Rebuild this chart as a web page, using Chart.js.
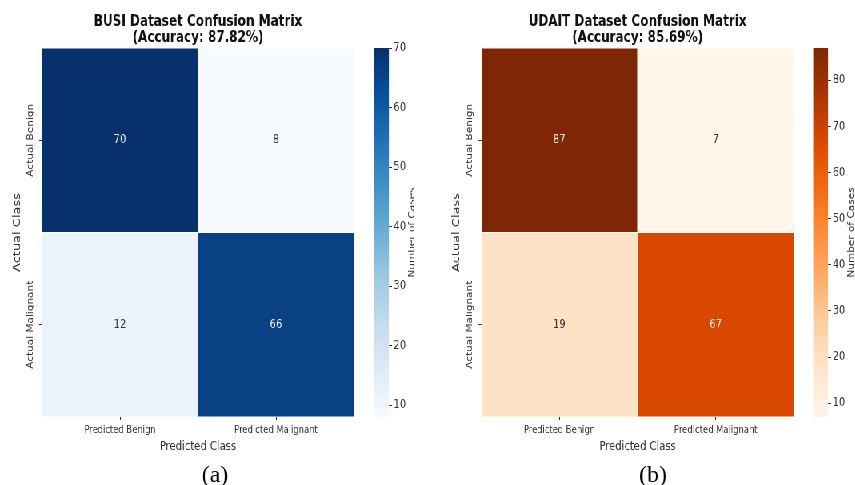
<!DOCTYPE html>
<html>
<head>
<meta charset="utf-8">
<script src="https://cdn.jsdelivr.net/npm/chart.js@4.4.1/dist/chart.umd.min.js"></script>
<style>
    html, body { margin: 0; padding: 0; background: #fff; overflow: hidden; }
    #page { position: relative; width: 855px; height: 485px; overflow: hidden; }
    /* the source figure is squeezed horizontally, so the charts are drawn wide and scaled down */
    #figure { position: absolute; left: 0; top: 0; width: 1069px; height: 485px; transform: scaleX(0.8); transform-origin: 0 0; }
    #figure canvas { position: absolute; top: 0; }
    .caption { position: absolute; top: 461px; width: 80px; line-height: 24px; text-align: center; font: 24px "Liberation Serif", "Times New Roman", serif; color: #000; }
</style>
</head>
<body>
<div id="page">
    <div id="figure">
        <canvas id="busi-map" width="495" height="462" style="left:0px"></canvas>
        <canvas id="busi-bar" width="82" height="485" style="left:455px"></canvas>
        <canvas id="udait-map" width="496" height="462" style="left:548.75px"></canvas>
        <canvas id="udait-bar" width="82" height="485" style="left:1003.75px"></canvas>
    </div>
    <div class="caption" style="left:175px">(a)</div>
    <div class="caption" style="left:613px">(b)</div>
</div>
<script>
"use strict";

// #region Data
const predictedClasses = ["Predicted Benign", "Predicted Malignant"];
const actualClasses = ["Actual Benign", "Actual Malignant"];

// rows = actual class, columns = predicted class
const busiCounts = [
    [70, 8],
    [12, 66],
];
const udaitCounts = [
    [87, 7],
    [19, 67],
];

const busiTitle = ["BUSI Dataset Confusion Matrix", "(Accuracy: 87.82%)"];
const udaitTitle = ["UDAIT Dataset Confusion Matrix", "(Accuracy: 85.69%)"];

const busiRange = [8, 70];
const udaitRange = [7, 87];
const busiBarTicks = [10, 20, 30, 40, 50, 60, 70];
const udaitBarTicks = [10, 20, 30, 40, 50, 60, 70, 80];

const xAxisTitle = "Predicted Class";
const yAxisTitle = "Actual Class";
const colourbarTitle = "Number of Cases";
// #endregion

// #region Colour maps
const BLUES = ["#f7fbff", "#deebf7", "#c6dbef", "#9ecae1", "#6baed6", "#4292c6", "#2171b5", "#08519c", "#08306b"];
const ORANGES = ["#fff5eb", "#fee6ce", "#fdd0a2", "#fdae6b", "#fd8d3c", "#f16913", "#d94801", "#a63603", "#7f2704"];

function hexToRgb(hex) {
    const n = parseInt(hex.slice(1), 16);
    return [n >> 16, (n >> 8) & 255, n & 255];
}

function sampleMap(stops, t) {
    t = Math.min(1, Math.max(0, t));
    const pos = t * (stops.length - 1);
    const i = Math.min(Math.floor(pos), stops.length - 2);
    const f = pos - i;
    const a = hexToRgb(stops[i]);
    const b = hexToRgb(stops[i + 1]);
    const c = a.map((v, k) => Math.round(v + (b[k] - v) * f));
    return `rgb(${c[0]}, ${c[1]}, ${c[2]})`;
}
// #endregion

const FONT = "'DejaVu Sans', 'Noto Sans', sans-serif";
const TEXT = "#333";
Chart.defaults.font.family = FONT;
Chart.defaults.color = TEXT;

// #region Plugins
/* count written in the middle of each cell */
const cellLabels = {
    id: "cellLabels",
    afterDatasetsDraw(chart) {
        const { ctx } = chart;
        ctx.save();
        ctx.font = `12px ${FONT}`;
        ctx.textAlign = "center";
        ctx.textBaseline = "middle";
        chart.data.datasets.forEach((ds, i) => {
            chart.getDatasetMeta(i).data.forEach((bar, j) => {
                ctx.fillStyle = ds.textColours[j];
                ctx.fillText(String(ds.counts[j]), bar.x, (bar.y + bar.base) / 2);
            });
        });
        ctx.restore();
    },
};

/* row names are rotated like in seaborn */
const rowLabels = {
    id: "rowLabels",
    afterDraw(chart) {
        const { ctx } = chart;
        const yScale = chart.scales.y;
        ctx.save();
        ctx.font = `10.5px ${FONT}`;
        ctx.fillStyle = TEXT;
        ctx.textAlign = "center";
        ctx.textBaseline = "middle";
        actualClasses.forEach((name, r) => {
            const value = actualClasses.length - 1 - r + 0.5;
            ctx.save();
            ctx.translate(yScale.right - 14, yScale.getPixelForValue(value));
            ctx.rotate(-Math.PI / 2);
            ctx.fillText(name, 0, 0);
            ctx.restore();
        });
        ctx.restore();
    },
};

/* colour bar label, reading bottom to top */
const barTitle = {
    id: "barTitle",
    afterDraw(chart) {
        const { ctx, chartArea } = chart;
        ctx.save();
        ctx.font = `10.5px ${FONT}`;
        ctx.fillStyle = TEXT;
        ctx.textAlign = "center";
        ctx.textBaseline = "middle";
        ctx.translate(chartArea.right + 29, (chartArea.top + chartArea.bottom) / 2);
        ctx.rotate(-Math.PI / 2);
        ctx.fillText(colourbarTitle, 0, 0);
        ctx.restore();
    },
};
// #endregion

// #region Charts
function drawHeatmap(canvasId, counts, range, stops, title) {
    const [vmin, vmax] = range;
    // stacked bars build from the bottom, so the last actual class goes first
    const rowsBottomUp = actualClasses.map((_, r) => actualClasses.length - 1 - r);
    const datasets = rowsBottomUp.map((r) => {
        const shades = counts[r].map((v) => (v - vmin) / (vmax - vmin));
        return {
            label: actualClasses[r],
            data: predictedClasses.map(() => 1),
            counts: counts[r],
            backgroundColor: shades.map((t) => sampleMap(stops, t)),
            textColours: shades.map((t) => (t > 0.5 ? "#ececec" : "#333")),
            borderColor: "rgba(255, 255, 255, 0.45)",
            borderWidth: 0.8,
            borderSkipped: false,
            barPercentage: 1,
            categoryPercentage: 1,
        };
    });

    return new Chart(document.getElementById(canvasId), {
        type: "bar",
        data: { labels: predictedClasses, datasets: datasets },
        options: {
            responsive: false,
            animation: false,
            events: [],
            layout: { padding: { left: 0, right: 52.5, top: 0, bottom: 0 } },
            plugins: {
                legend: { display: false },
                tooltip: { enabled: false },
                title: {
                    display: true,
                    fullSize: false, // centred over the cells, not the canvas
                    text: title,
                    color: "#111",
                    font: { size: 15, weight: "bold", lineHeight: 1.1 },
                    padding: { top: 13.5, bottom: 1.5 },
                },
            },
            scales: {
                x: {
                    stacked: true,
                    grid: { offset: false, drawOnChartArea: false, tickLength: 3, color: TEXT },
                    border: { display: false },
                    ticks: { color: TEXT, font: { size: 10.5 }, padding: 3.5, maxRotation: 0, autoSkip: false },
                    title: {
                        display: true,
                        text: xAxisTitle,
                        color: TEXT,
                        font: { size: 12.5 },
                        padding: { top: 0, bottom: 8 },
                    },
                    afterFit: (scale) => {
                        scale.height = 45;
                    },
                },
                y: {
                    stacked: true,
                    min: 0,
                    max: actualClasses.length,
                    afterBuildTicks: (scale) => {
                        scale.ticks = actualClasses.map((_, i) => ({ value: i + 0.5 }));
                    },
                    grid: { drawOnChartArea: false, tickLength: 3.75, color: TEXT },
                    border: { display: false },
                    ticks: { display: false },
                    title: {
                        display: true,
                        text: yAxisTitle,
                        color: TEXT,
                        font: { size: 13 },
                        padding: { top: 14, bottom: 0 },
                    },
                    afterFit: (scale) => {
                        scale.width = 52.5;
                    },
                },
            },
        },
        plugins: [cellLabels, rowLabels],
    });
}

function drawColourbar(canvasId, range, stops, tickValues) {
    const [vmin, vmax] = range;
    return new Chart(document.getElementById(canvasId), {
        type: "bar",
        data: {
            labels: [colourbarTitle],
            datasets: [
                {
                    data: [[vmin, vmax]],
                    backgroundColor: (ctx) => {
                        const area = ctx.chart.chartArea;
                        if (!area) return stops[0];
                        const g = ctx.chart.ctx.createLinearGradient(0, area.bottom, 0, area.top);
                        stops.forEach((c, i) => g.addColorStop(i / (stops.length - 1), c));
                        return g;
                    },
                    borderWidth: 0,
                    barPercentage: 1,
                    categoryPercentage: 1,
                },
            ],
        },
        options: {
            responsive: false,
            animation: false,
            events: [],
            layout: { padding: { left: 12.5, right: 0, top: 48, bottom: 68 } },
            plugins: { legend: { display: false }, tooltip: { enabled: false } },
            scales: {
                x: { display: false },
                y: {
                    position: "right",
                    min: vmin,
                    max: vmax,
                    afterBuildTicks: (scale) => {
                        scale.ticks = tickValues.map((v) => ({ value: v }));
                    },
                    grid: { drawOnChartArea: false, tickLength: 3.75, color: TEXT },
                    border: { display: false },
                    ticks: { color: TEXT, font: { size: 12 }, padding: 2 },
                    afterFit: (scale) => {
                        scale.width = 50.75;
                    },
                },
            },
        },
        plugins: [barTitle],
    });
}

drawHeatmap("busi-map", busiCounts, busiRange, BLUES, busiTitle);
drawColourbar("busi-bar", busiRange, BLUES, busiBarTicks);
drawHeatmap("udait-map", udaitCounts, udaitRange, ORANGES, udaitTitle);
drawColourbar("udait-bar", udaitRange, ORANGES, udaitBarTicks);
// #endregion
</script>
</body>
</html>
